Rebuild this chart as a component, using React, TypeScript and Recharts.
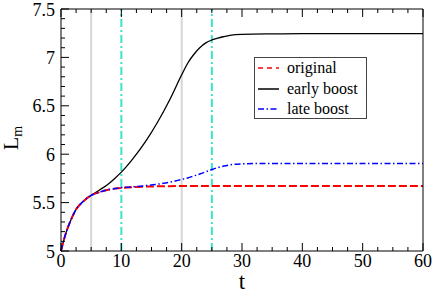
import { LineChart, Line, XAxis, YAxis, ReferenceLine, Legend } from "recharts";

const T = [0, 0.5, 1, 1.5, 2, 2.5, 3, 4, 5, 6, 7, 8, 9, 10, 12, 14, 16, 18, 20, 21, 22, 23, 24, 25, 26, 27, 28, 30, 35, 40, 50, 60];

const ORIGINAL = [
  5.0, 5.12, 5.22, 5.3, 5.37, 5.43, 5.47, 5.53, 5.575, 5.6, 5.62, 5.635, 5.645, 5.652, 5.66, 5.665, 5.668, 5.67,
  5.672, 5.672, 5.672, 5.672, 5.672, 5.672, 5.672, 5.672, 5.672, 5.672, 5.672, 5.672, 5.672, 5.672,
];

const EARLY = [
  5.0, 5.12, 5.22, 5.3, 5.37, 5.43, 5.47, 5.53, 5.575, 5.615, 5.655, 5.7, 5.755, 5.815, 5.96, 6.13, 6.33, 6.56,
  6.82, 6.94, 7.03, 7.1, 7.15, 7.18, 7.2, 7.215, 7.228, 7.238, 7.243, 7.245, 7.245, 7.245,
];

const LATE = [
  5.0, 5.12, 5.22, 5.3, 5.37, 5.43, 5.47, 5.53, 5.575, 5.6, 5.62, 5.635, 5.645, 5.654, 5.663, 5.675, 5.69, 5.71,
  5.74, 5.755, 5.775, 5.795, 5.818, 5.842, 5.862, 5.878, 5.89, 5.9, 5.905, 5.905, 5.905, 5.905,
];

const X_TICKS = [0, 2.5, 5, 7.5, 10, 12.5, 15, 17.5, 20, 22.5, 25, 27.5, 30, 32.5, 35, 37.5, 40, 42.5, 45, 47.5, 50, 52.5, 55, 57.5, 60];
const Y_TICKS = [5, 5.1, 5.2, 5.3, 5.4, 5.5, 5.6, 5.7, 5.8, 5.9, 6, 6.1, 6.2, 6.3, 6.4, 6.5, 6.6, 6.7, 6.8, 6.9, 7, 7.1, 7.2, 7.3, 7.4, 7.5];

const GRAY_MARKS = [5, 20];
const CYAN_MARKS = [10, 25];

const SERIES = [
  { key: "original", name: "original", color: "#ff0000", dash: "8 3", width: 2 },
  { key: "early", name: "early boost", color: "#000000", dash: undefined, width: 1.3 },
  { key: "late", name: "late boost", color: "#0000ff", dash: "6 2.5 1.5 2.5", width: 1.5 },
];

const data = T.map((t, i) => ({ t, original: ORIGINAL[i], early: EARLY[i], late: LATE[i] }));

// no serif face seems to be installed, so list a few and size for the sans fallback
const FONT = "Liberation Serif, Tinos, Nimbus Roman, FreeSerif, Noto Serif, DejaVu Serif, serif";
const txt = { fontFamily: FONT };
const TICK_FS = 18;
const MAJOR = 8;
const MINOR = 4;

const isMajorX = (v: number) => v % 10 === 0;
const isMajorY = (v: number) => Math.abs(v * 2 - Math.round(v * 2)) < 1e-6;

function BottomTick({ x, y, payload }: any) {
  const major = isMajorX(payload.value);
  return (
    <g>
      <line x1={x} y1={y} x2={x} y2={y - (major ? MAJOR : MINOR)} stroke="#000" />
      {major && (
        <text x={x} y={y + 16} textAnchor="middle" fontSize={TICK_FS} style={txt} fill="#000">
          {payload.value}
        </text>
      )}
    </g>
  );
}

function TopTick({ x, y, payload }: any) {
  const major = isMajorX(payload.value);
  return <line x1={x} y1={y} x2={x} y2={y + (major ? MAJOR : MINOR)} stroke="#000" />;
}

function LeftTick({ x, y, payload }: any) {
  const major = isMajorY(payload.value);
  return (
    <g>
      <line x1={x} y1={y} x2={x + (major ? MAJOR : MINOR)} y2={y} stroke="#000" />
      {major && (
        <text x={x - 6} y={y + 6.5} textAnchor="end" fontSize={TICK_FS} style={txt} fill="#000">
          {payload.value}
        </text>
      )}
    </g>
  );
}

function RightTick({ x, y, payload }: any) {
  const major = isMajorY(payload.value);
  return <line x1={x} y1={y} x2={x - (major ? MAJOR : MINOR)} y2={y} stroke="#000" />;
}

function YLabel(props: any) {
  const vb = props.viewBox || { x: 0, y: 9, width: 61, height: 242 };
  const cx = vb.x + 18;
  const cy = vb.y + vb.height / 2 + 8;
  return (
    <text
      x={cx}
      y={cy}
      transform={`rotate(-90 ${cx} ${cy})`}
      textAnchor="middle"
      fontSize={22}
      style={txt}
      fill="#000"
    >
      L
      <tspan fontSize={14} dy={4}>
        m
      </tspan>
    </text>
  );
}

function LegendBox() {
  const rows = [11, 32, 52];
  return (
    <svg width={113} height={62} style={{ display: "block" }}>
      <rect x={0.5} y={0.5} width={112} height={61} fill="#fff" stroke="#444" />
      {SERIES.map((s, i) => (
        <g key={s.key}>
          <line
            x1={4}
            x2={25}
            y1={rows[i]}
            y2={rows[i]}
            stroke={s.color}
            strokeWidth={1.5}
            strokeDasharray={s.key === "original" ? "5 4" : s.dash}
          />
          <text x={33} y={rows[i] + 5} fontSize={16} style={txt} fill="#000">
            {s.name}
          </text>
        </g>
      ))}
    </svg>
  );
}

export default function App() {
  const drawOrder = [SERIES[1], SERIES[0], SERIES[2]];
  return (
    <div style={{ position: "absolute", left: 0, top: 0, width: 436, height: 291, background: "#fff", fontFamily: FONT }}>
      <LineChart width={436} height={291} data={data} margin={{ top: 0, right: 0, bottom: 0, left: 0 }}>
        <XAxis
          dataKey="t"
          type="number"
          domain={[0, 60]}
          ticks={X_TICKS}
          interval={0}
          tickSize={0}
          tickMargin={0}
          tickLine={false}
          height={40}
          axisLine={{ stroke: "#000" }}
          tick={(p: any) => <BottomTick {...p} />}
          label={{ value: "t", position: "insideBottom", offset: 2, fontSize: 23, style: txt, fill: "#000" }}
        />
        <XAxis
          xAxisId="top"
          orientation="top"
          dataKey="t"
          type="number"
          domain={[0, 60]}
          ticks={X_TICKS}
          interval={0}
          tickSize={0}
          tickMargin={0}
          tickLine={false}
          height={9}
          axisLine={{ stroke: "#000" }}
          tick={(p: any) => <TopTick {...p} />}
        />
        <YAxis
          type="number"
          domain={[5, 7.5]}
          ticks={Y_TICKS}
          interval={0}
          tickSize={0}
          tickMargin={0}
          tickLine={false}
          width={61}
          axisLine={{ stroke: "#000" }}
          tick={(p: any) => <LeftTick {...p} />}
          label={(p: any) => <YLabel {...p} />}
        />
        <YAxis
          yAxisId="right"
          orientation="right"
          type="number"
          domain={[5, 7.5]}
          ticks={Y_TICKS}
          interval={0}
          tickSize={0}
          tickMargin={0}
          tickLine={false}
          width={13}
          axisLine={{ stroke: "#000" }}
          tick={(p: any) => <RightTick {...p} />}
        />
        {GRAY_MARKS.map((v) => (
          <ReferenceLine key={`g${v}`} x={v} stroke="#d6d6d6" strokeWidth={2} />
        ))}
        {CYAN_MARKS.map((v) => (
          <ReferenceLine key={`c${v}`} x={v} stroke="#40e0d0" strokeWidth={2} strokeDasharray="8 3 2 3" />
        ))}
        {drawOrder.map((s) => (
          <Line
            key={s.key}
            dataKey={s.key}
            name={s.name}
            type="monotone"
            stroke={s.color}
            strokeWidth={s.width}
            strokeDasharray={s.dash}
            dot={false}
            activeDot={false}
            isAnimationActive={false}
          />
        ))}
        <Legend
          layout="vertical"
          align="center"
          verticalAlign="middle"
          content={() => <LegendBox />}
          wrapperStyle={{ left: 254, top: 57, width: 113, height: 62 }}
        />
      </LineChart>
    </div>
  );
}
